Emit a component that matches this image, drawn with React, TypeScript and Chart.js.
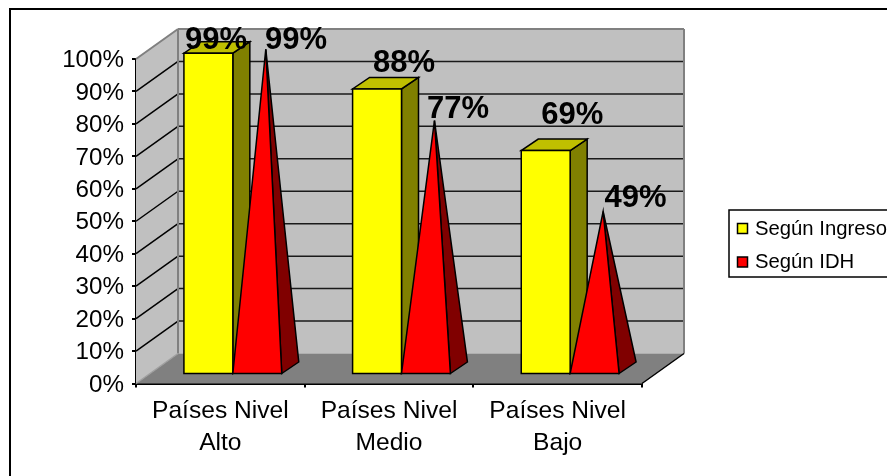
import React, { useEffect, useRef } from "react";
import { Chart, registerables } from "chart.js";

Chart.register(...registerables);

const categories = [
  ["Países Nivel", "Alto"],
  ["Países Nivel", "Medio"],
  ["Países Nivel", "Bajo"],
];
const segunIngreso = [0.99, 0.88, 0.69];
const segunIDH = [0.99, 0.77, 0.49];
const yTicks = [0, 0.1, 0.2, 0.3, 0.4, 0.5, 0.6, 0.7, 0.8, 0.9, 1];

// Hand placement of each percent label relative to its solid, per dataset.
const labelNudgeX = [
  [7.7, 27, 26.5],
  [38.7, 32, 41],
];
const labelNudgeY = [
  [-3.7, -16.5, -26],
  [-3.7, -6, -7.7],
];

const FONT = '"Liberation Sans", Arial, sans-serif';
const INK = "#000000";
const WALL = "#C0C0C0";
const WALL_EDGE = "#808080";
const FLOOR = "#808080";

// Projection of the box the columns stand in.
const BOX_DX = 42;
const BOX_DY = -30;
// Offset of a column's front face from the axis plane, and its own depth.
const BAR_DX = 12.5;
const BAR_DY = -9;
const BAR_DEPTH_X = 17;
const BAR_DEPTH_Y = -11.5;
const APEX_RISE = -13;

type Pt = [number, number];

function poly(ctx: CanvasRenderingContext2D, pts: Pt[], fill: string, stroke: string | null, lw = 1.5) {
  ctx.beginPath();
  pts.forEach(([x, y], i) => (i ? ctx.lineTo(x, y) : ctx.moveTo(x, y)));
  ctx.closePath();
  ctx.fillStyle = fill;
  ctx.fill();
  if (stroke) {
    ctx.strokeStyle = stroke;
    ctx.lineWidth = lw;
    ctx.lineJoin = "miter";
    ctx.stroke();
  }
}

function line(ctx: CanvasRenderingContext2D, a: Pt, b: Pt, color: string, lw: number) {
  ctx.beginPath();
  ctx.moveTo(a[0], a[1]);
  ctx.lineTo(b[0], b[1]);
  ctx.strokeStyle = color;
  ctx.lineWidth = lw;
  ctx.stroke();
}

function drawColumn(ctx: CanvasRenderingContext2D, bar: any) {
  const x0 = bar.x - bar.width / 2 + BAR_DX;
  const x1 = bar.x + bar.width / 2 + BAR_DX;
  const top = bar.y + BAR_DY;
  const base = bar.base + BAR_DY;
  poly(ctx, [[x1, base], [x1 + BAR_DEPTH_X, base + BAR_DEPTH_Y], [x1 + BAR_DEPTH_X, top + BAR_DEPTH_Y], [x1, top]], "#808000", INK);
  poly(ctx, [[x0, top], [x1, top], [x1 + BAR_DEPTH_X, top + BAR_DEPTH_Y], [x0 + BAR_DEPTH_X, top + BAR_DEPTH_Y]], "#C0C000", INK);
  poly(ctx, [[x0, base], [x1, base], [x1, top], [x0, top]], "#FFFF00", INK);
}

function drawPyramid(ctx: CanvasRenderingContext2D, bar: any) {
  const x0 = bar.x - bar.width / 2 + BAR_DX;
  const x1 = bar.x + bar.width / 2 + BAR_DX;
  const base = bar.base + BAR_DY;
  const apex: Pt = [bar.x + BAR_DX + BAR_DEPTH_X / 2, bar.y + APEX_RISE];
  poly(ctx, [[x1, base], [x1 + BAR_DEPTH_X, base + BAR_DEPTH_Y], apex], "#800000", INK);
  poly(ctx, [[x0, base], [x1, base], apex], "#FF0000", INK);
}

// Side wall, back wall, floor and the gridlines that run round them, then the
// solids front to back, placed from the bar elements of each dataset.
const scene = {
  id: "scene",
  beforeDatasetsDraw(chart: any) {
    const { ctx, chartArea: a, scales } = chart;
    const { left: l, right: r, top: t, bottom: b } = a;
    ctx.save();
    poly(ctx, [[l, t], [l + BOX_DX, t + BOX_DY], [l + BOX_DX, b + BOX_DY], [l, b]], WALL, null);
    poly(ctx, [[l + BOX_DX, t + BOX_DY], [r + BOX_DX, t + BOX_DY], [r + BOX_DX, b + BOX_DY], [l + BOX_DX, b + BOX_DY]], WALL, null);
    poly(ctx, [[l, b], [l + BOX_DX, b + BOX_DY], [r + BOX_DX, b + BOX_DY], [r, b]], FLOOR, null);

    yTicks.slice(1, -1).forEach((v) => {
      const y = scales.y.getPixelForValue(v);
      line(ctx, [l, y], [l + BOX_DX, y + BOX_DY], INK, 1.5);
      line(ctx, [l + BOX_DX, y + BOX_DY], [r + BOX_DX, y + BOX_DY], "#1a1a1a", 1.5);
    });

    line(ctx, [l, t], [l + BOX_DX, t + BOX_DY], WALL_EDGE, 2);
    line(ctx, [l + BOX_DX, t + BOX_DY], [r + BOX_DX, t + BOX_DY], WALL_EDGE, 2);
    line(ctx, [r + BOX_DX, t + BOX_DY], [r + BOX_DX, b + BOX_DY], WALL_EDGE, 2);
    line(ctx, [l + BOX_DX, t + BOX_DY], [l + BOX_DX, b + BOX_DY], WALL_EDGE, 2);
    line(ctx, [l, b], [l + BOX_DX, b + BOX_DY], "#A0A0A0", 1.5);
    line(ctx, [r, b], [r + BOX_DX, b + BOX_DY], INK, 1.5);

    const columns = chart.getDatasetMeta(0).data;
    const pyramids = chart.getDatasetMeta(1).data;
    columns.forEach((bar: any, i: number) => {
      drawColumn(ctx, bar);
      drawPyramid(ctx, pyramids[i]);
    });
    ctx.restore();
  },
  // The flat rectangles of the bar controller stay unpainted.
  beforeDatasetDraw() {
    return false;
  },
};

// Percent labels above each solid, then the boxed key and the outer frame.
const overlay = {
  id: "overlay",
  afterDraw(chart: any) {
    const { ctx, data } = chart;
    ctx.save();
    ctx.fillStyle = INK;
    ctx.textBaseline = "alphabetic";
    ctx.textAlign = "center";
    ctx.font = `bold 31px ${FONT}`;
    data.datasets.forEach((ds: any, di: number) => {
      chart.getDatasetMeta(di).data.forEach((bar: any, i: number) => {
        const text = `${Math.round(ds.data[i] * 100)}%`;
        ctx.fillText(text, bar.x + BAR_DX + labelNudgeX[di][i], bar.y - 9.5 + labelNudgeY[di][i]);
      });
    });

    // frame, open on the right and bottom
    line(ctx, [10, 476], [10, 9], INK, 2);
    line(ctx, [9, 9], [887, 9], INK, 2);

    // key
    ctx.fillStyle = "#FFFFFF";
    ctx.fillRect(729, 210, 170, 67);
    ctx.strokeStyle = INK;
    ctx.lineWidth = 1.5;
    ctx.strokeRect(729, 210, 170, 67);
    ctx.font = `20.3px ${FONT}`;
    ctx.textAlign = "left";
    ctx.textBaseline = "middle";
    const rows = [228.5, 262];
    data.datasets.forEach((ds: any, i: number) => {
      ctx.fillStyle = ds.backgroundColor;
      ctx.fillRect(737.5, rows[i] - 5, 10, 10);
      ctx.lineWidth = 1.5;
      ctx.strokeRect(737.5, rows[i] - 5, 10, 10);
      ctx.fillStyle = INK;
      ctx.fillText(ds.label, 755, rows[i] + 0.5);
    });
    ctx.restore();
  },
};

export default function App() {
  const ref = useRef<HTMLCanvasElement>(null);

  useEffect(() => {
    const chart = new Chart(ref.current!, {
      type: "bar",
      data: {
        labels: categories,
        datasets: [
          { label: "Según Ingreso", data: segunIngreso, backgroundColor: "#FFFF00" },
          { label: "Según IDH", data: segunIDH, backgroundColor: "#FF0000" },
        ],
      },
      options: {
        responsive: false,
        animation: false,
        events: [],
        layout: { padding: { left: 0, top: 59, right: 245, bottom: 0 } },
        datasets: { bar: { categoryPercentage: 0.58, barPercentage: 1 } },
        plugins: { legend: { display: false }, tooltip: { enabled: false }, title: { display: false } },
        scales: {
          x: {
            afterFit: (s: any) => { s.height = 92.5; },
            grid: { drawOnChartArea: false, color: INK, lineWidth: 2, tickLength: 4, tickColor: INK },
            border: { color: INK, width: 2 },
            ticks: {
              color: INK,
              padding: 8,
              maxRotation: 0,
              autoSkip: false,
              font: { family: FONT, size: 24.6, lineHeight: 1.3 },
            },
          },
          y: {
            min: 0,
            max: 1,
            afterFit: (s: any) => { s.width = 136; },
            afterBuildTicks: (s: any) => { s.ticks = yTicks.map((value) => ({ value })); },
            grid: { drawOnChartArea: false, color: INK, lineWidth: 2, tickLength: 4, tickColor: INK },
            border: { color: INK, width: 2 },
            ticks: {
              color: INK,
              padding: 8,
              labelOffset: 1.5,
              font: { family: FONT, size: 24.2 },
              callback: (v: any) => `${Math.round(Number(v) * 100)}%`,
            },
          },
        },
      },
      plugins: [scene, overlay],
    } as any);
    return () => chart.destroy();
  }, []);

  return (
    <div style={{ position: "fixed", left: 0, top: 0, width: 887, height: 476, background: "#FFFFFF" }}>
      <canvas ref={ref} width={887} height={476} style={{ display: "block" }} />
    </div>
  );
}
